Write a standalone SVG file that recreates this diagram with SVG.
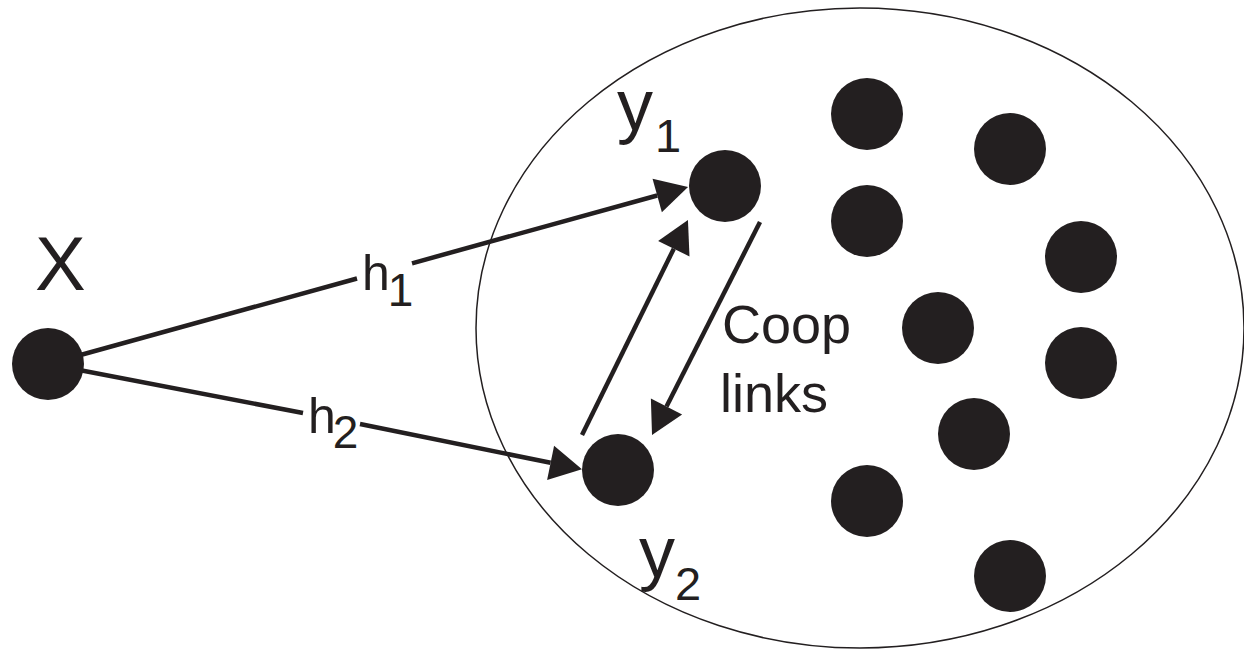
<svg xmlns="http://www.w3.org/2000/svg" width="1244" height="651" viewBox="0 0 1244 651">
  <style>
    .dot { fill: #231f20; }
    .lbl { font-family: "Liberation Sans", Arial, sans-serif; fill: #231f20; }
    .edge { stroke: #231f20; stroke-width: 4.5; fill: none; }
    .arrow { marker-end: url(#head); }
  </style>
  <defs>
    <marker id="head" markerUnits="userSpaceOnUse" viewBox="0 -18 33 36" markerWidth="33" markerHeight="36" refX="0" refY="0" orient="auto" overflow="visible">
      <path d="M0,-17.5 L32,0 L0,17.5 Z" fill="#231f20"/>
    </marker>
  </defs>
  <rect width="1244" height="651" fill="#ffffff"/>

  <g id="cluster">
    <ellipse cx="860" cy="328" rx="384" ry="320" fill="none" stroke="#231f20" stroke-width="1.5"/>
  </g>

  <g id="connectors">
    <line class="edge" x1="48" y1="364" x2="357" y2="278.5"/>
    <line class="edge arrow" x1="412" y1="263.3" x2="657.2" y2="195.5"/>
    <line class="edge" x1="48" y1="364" x2="303" y2="413"/>
    <line class="edge arrow" x1="360" y1="424" x2="550.6" y2="462.8"/>
    <line class="edge arrow" x1="582" y1="435" x2="673.8" y2="248.7"/>
    <line class="edge arrow" x1="760" y1="222" x2="666.5" y2="406.5"/>
  </g>

  <g id="node-x">
    <circle class="dot" cx="48" cy="364" r="36"/>
    <text class="lbl" x="35" y="290" font-size="76">X</text>
  </g>

  <g id="node-y1">
    <circle class="dot" cx="725" cy="186" r="36"/>
    <text class="lbl" x="617" y="130" font-size="72">y<tspan font-size="47" dx="2" dy="22">1</tspan></text>
  </g>

  <g id="node-y2">
    <circle class="dot" cx="618" cy="470" r="36"/>
    <text class="lbl" x="639" y="577" font-size="72">y<tspan font-size="47" dx="0" dy="23">2</tspan></text>
  </g>

  <g id="label-h1">
    <text class="lbl" x="362" y="290" font-size="50">h<tspan font-size="46" dx="-2" dy="16">1</tspan></text>
  </g>
  <g id="label-h2">
    <text class="lbl" x="308" y="433" font-size="50">h<tspan font-size="46" dx="-3" dy="15">2</tspan></text>
  </g>
  <g id="label-coop">
    <text class="lbl" x="722" y="343" font-size="54">Coop</text>
    <text class="lbl" x="720" y="412" font-size="54">links</text>
  </g>

  <g id="node-a"><circle class="dot" cx="867" cy="114" r="36"/></g>
  <g id="node-b"><circle class="dot" cx="1010" cy="149" r="36"/></g>
  <g id="node-c"><circle class="dot" cx="867" cy="221" r="36"/></g>
  <g id="node-d"><circle class="dot" cx="1081" cy="257" r="36"/></g>
  <g id="node-e"><circle class="dot" cx="938" cy="328" r="36"/></g>
  <g id="node-f"><circle class="dot" cx="1081" cy="363" r="36"/></g>
  <g id="node-g"><circle class="dot" cx="974" cy="434" r="36"/></g>
  <g id="node-h"><circle class="dot" cx="867" cy="501" r="36"/></g>
  <g id="node-i"><circle class="dot" cx="1010" cy="576" r="36"/></g>
</svg>
